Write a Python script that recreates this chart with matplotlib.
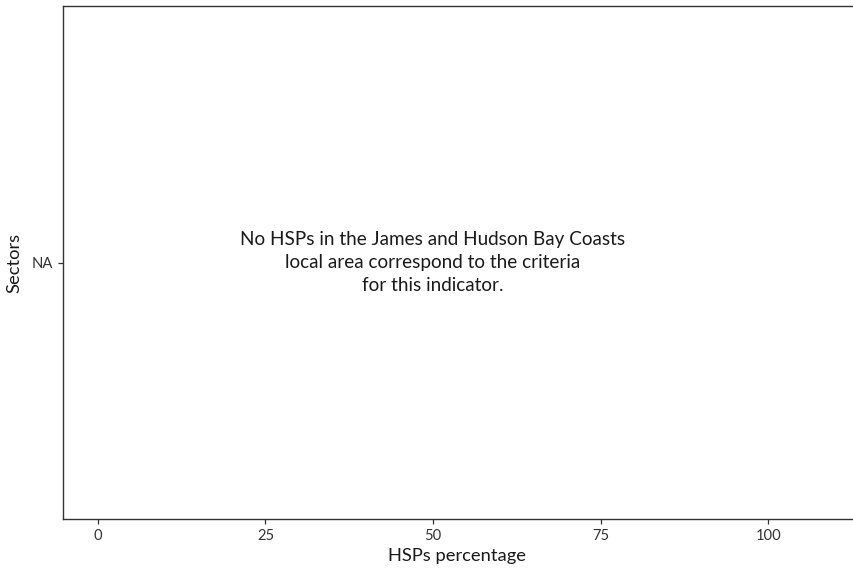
import matplotlib
matplotlib.use("Agg")
import matplotlib.pyplot as plt

plt.rcParams['font.family'] = ['Lato', 'DejaVu Sans']

# data (empty: no sector matched the criteria)
sectors = ["NA"]
percentages = []
x_ticks = [0, 25, 50, 75, 100]
x_limits = (-5.2, 112.5)
message = ("No HSPs in the James and Hudson Bay Coasts\n"
           "local area correspond to the criteria\n"
           "for this indicator.")

fig = plt.figure(figsize=(8.54, 5.74), dpi=100)
ax = fig.add_axes([63 / 854, 55 / 574, (852 - 63) / 854, (519 - 6) / 574])

ax.set_xlim(*x_limits)
ax.set_ylim(-0.5, 0.5)
ax.set_yticks(range(len(sectors)))
ax.set_yticklabels(sectors)
ax.set_xticks(x_ticks)
ax.set_xticklabels([str(t) for t in x_ticks])

ax.text(50, 0, message, ha='center', va='center', fontsize=13.6,
        color='#1a1a1a', linespacing=1.42)

ax.set_xlabel("HSPs percentage", fontsize=13.2, color='#1a1a1a', labelpad=3)
ax.set_ylabel("Sectors", fontsize=13.2, color='#1a1a1a', labelpad=6)

for s in ['left', 'bottom', 'top']:
    ax.spines[s].set_color('#333333')
    ax.spines[s].set_linewidth(1.0)
ax.spines['right'].set_visible(False)
ax.tick_params(colors='#333333', labelcolor='#333333', labelsize=10.6,
               length=3.5, width=0.9, pad=4)

fig.savefig("out.png", dpi=100)
